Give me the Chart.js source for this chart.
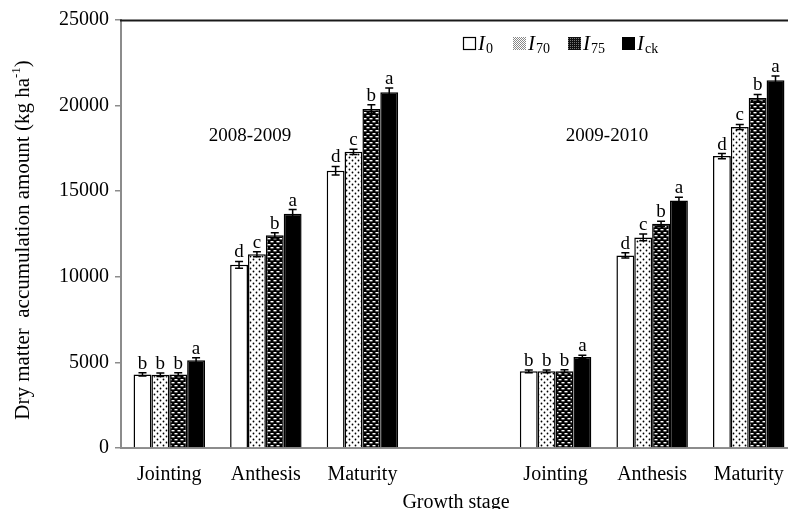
<!DOCTYPE html>
<html>
<head>
<meta charset="utf-8">
<script src="https://cdn.jsdelivr.net/npm/chart.js@4/dist/chart.umd.min.js"></script>
<style>
html,body{margin:0;padding:0;background:#fff;overflow:hidden;}
canvas{display:block;}
</style>
</head>
<body>
<canvas id="c" width="800" height="509"></canvas>
<script>
// ---- data ----
const categories = ['Jointing','Anthesis','Maturity','','Jointing','Anthesis','Maturity'];
const seriesNames = ['I0','I70','I75','Ick'];
const I0  = [4300, 10700, 16200, null, 4480, 11250, 17050];
const I70 = [4280, 11320, 17300, null, 4480, 12300, 18750];
const I75 = [4300, 12420, 19800, null, 4490, 13100, 20450];
const Ick = [5120, 13680, 20780, null, 5320, 14450, 21480];
const I0Err  = [100, 200, 250, null, 80, 150, 150];
const I70Err = [100, 150, 150, null, 80, 200, 150];
const I75Err = [100, 150, 250, null, 80, 150, 200];
const IckErr = [150, 250, 250, null, 100, 200, 250];
const I0Let  = ['b','d','d','','b','d','d'];
const I70Let = ['b','c','c','','b','c','c'];
const I75Let = ['b','b','b','','b','b','b'];
const IckLet = ['a','a','a','','a','a','a'];
const yTicks = [0, 5000, 10000, 15000, 20000, 25000];
const seasonLabels = ['2008-2009','2009-2010'];

const FONT = '"Liberation Serif", "Times New Roman", serif';

// ---- patterns ----
function makeTile(w, h, draw) {
  const c = document.createElement('canvas');
  c.width = w; c.height = h;
  const g = c.getContext('2d');
  draw(g);
  return document.getElementById('c').getContext('2d').createPattern(c, 'repeat');
}
const dotPat = makeTile(6, 6, g => {
  g.fillStyle = '#fff'; g.fillRect(0,0,6,6);
  g.fillStyle = '#000';
  g.beginPath(); g.arc(1.5,1.5,0.9,0,Math.PI*2); g.fill();
  g.beginPath(); g.arc(4.5,4.5,0.9,0,Math.PI*2); g.fill();
});
const brickPat = makeTile(6, 6, g => {
  g.fillStyle = '#000'; g.fillRect(0,0,6,6);
  g.fillStyle = '#fff';
  g.fillRect(0.5,1,3,1.4);
  g.fillRect(3.5,4,3,1.4);
  g.fillRect(-2.5,4,3,1.4);
});
const lightStip = makeTile(2, 2, g => {
  g.fillStyle = '#fff'; g.fillRect(0,0,2,2);
  g.fillStyle = '#888'; g.fillRect(0,0,1,1); g.fillRect(1,1,1,1);
});
const darkStip = makeTile(2, 2, g => {
  g.fillStyle = '#111'; g.fillRect(0,0,2,2);
  g.fillStyle = '#777'; g.fillRect(0,0,1,1);
});

const errs = [I0Err, I70Err, I75Err, IckErr];
const lets = [I0Let, I70Let, I75Let, IckLet];

const overlay = {
  id: 'overlay',
  afterDatasetsDraw(chart) {
    const ctx = chart.ctx;
    const ya = chart.scales.y;
    const ca = chart.chartArea;
    ctx.save();
    // error bars + letters
    chart.data.datasets.forEach((ds, di) => {
      const meta = chart.getDatasetMeta(di);
      meta.data.forEach((bar, i) => {
        const v = ds.data[i];
        if (v == null) return;
        const e = errs[di][i];
        const x = bar.x;
        const yt = ya.getPixelForValue(v + e);
        const yb = ya.getPixelForValue(v - e);
        ctx.strokeStyle = '#000';
        ctx.lineWidth = 1.5;
        ctx.beginPath();
        ctx.moveTo(x, yt); ctx.lineTo(x, yb);
        ctx.moveTo(x-4, yt); ctx.lineTo(x+4, yt);
        ctx.moveTo(x-4, yb); ctx.lineTo(x+4, yb);
        ctx.stroke();
        ctx.fillStyle = '#000';
        ctx.font = '19px ' + FONT;
        ctx.textAlign = 'center';
        ctx.textBaseline = 'alphabetic';
        ctx.fillText(lets[di][i], x, yt - 4);
      });
    });
    // top line
    ctx.strokeStyle = '#1a1a1a';
    ctx.lineWidth = 2;
    ctx.beginPath();
    ctx.moveTo(ca.left - 1, ca.top + 0.5);
    ctx.lineTo(chart.width, ca.top + 0.5);
    ctx.stroke();
    // season labels
    ctx.fillStyle = '#000';
    ctx.font = '19px ' + FONT;
    ctx.textAlign = 'center';
    ctx.textBaseline = 'middle';
    ctx.fillText(seasonLabels[0], 250, 136);
    ctx.fillText(seasonLabels[1], 607, 136);
    // x title
    ctx.font = '20px ' + FONT;
    ctx.textBaseline = 'alphabetic';
    ctx.fillText('Growth stage', (ca.left + ca.right) / 2 - 3, 508);
    // y title with superscript
    ctx.save();
    ctx.translate(23, (ca.top + ca.bottom) / 2 + 6);
    ctx.rotate(-Math.PI / 2);
    ctx.textBaseline = 'middle';
    ctx.textAlign = 'left';
    const f1 = '21px ' + FONT, f2 = '13px ' + FONT;
    const p1 = 'Dry matter  accumulation amount (kg ha', p2 = '-1', p3 = ')';
    ctx.font = f1; const w1 = ctx.measureText(p1).width, w3 = ctx.measureText(p3).width;
    ctx.font = f2; const w2 = ctx.measureText(p2).width;
    let x0 = -(w1 + w2 + w3) / 2;
    ctx.font = f1; ctx.fillText(p1, x0, 0);
    ctx.font = f2; ctx.fillText(p2, x0 + w1, -6);
    ctx.font = f1; ctx.fillText(p3, x0 + w1 + w2, 0);
    ctx.restore();
    // legend
    const ly = 43;
    const items = [
      {x: 463, fill: '#fff', border: true, sub: '0'},
      {x: 513, fill: lightStip, border: false, sub: '70'},
      {x: 568, fill: darkStip, border: false, sub: '75'},
      {x: 622, fill: '#000', border: false, sub: 'ck'}
    ];
    items.forEach(it => {
      ctx.fillStyle = it.fill;
      ctx.fillRect(it.x, ly - 6, 13, 13);
      if (it.border) {
        ctx.strokeStyle = '#000'; ctx.lineWidth = 1.2;
        ctx.strokeRect(it.x + 0.5, ly - 5.5, 12, 12);
      }
      ctx.fillStyle = '#000';
      ctx.textAlign = 'left';
      ctx.textBaseline = 'alphabetic';
      ctx.font = 'italic 21px ' + FONT;
      const ix = it.x + 15;
      ctx.fillText('I', ix, ly + 7);
      const iw = ctx.measureText('I').width;
      ctx.font = '14px ' + FONT;
      ctx.fillText(it.sub, ix + iw + 1, ly + 10);
    });
    ctx.restore();
  }
};

const data = {
  labels: categories,
  datasets: [
    {label: seriesNames[0], data: I0,  backgroundColor: '#fff',   borderColor: '#000', borderWidth: 1.5},
    {label: seriesNames[1], data: I70, backgroundColor: dotPat,   borderColor: '#000', borderWidth: 1.5},
    {label: seriesNames[2], data: I75, backgroundColor: brickPat, borderColor: '#000', borderWidth: 1.5},
    {label: seriesNames[3], data: Ick, backgroundColor: '#000',   borderColor: '#000', borderWidth: 1.5}
  ]
};

new Chart(document.getElementById('c'), {
  type: 'bar',
  data,
  plugins: [overlay],
  options: {
    responsive: false,
    animation: false,
    devicePixelRatio: 1,
    layout: {padding: {top: 20, right: 3, left: 0, bottom: 0}},
    plugins: {legend: {display: false}, tooltip: {enabled: false}},
    datasets: {bar: {categoryPercentage: 0.74, barPercentage: 1.0}},
    scales: {
      x: {
        grid: {display: false},
        border: {color: '#8c8c8c', width: 2},
        ticks: {color: '#000', font: {family: FONT, size: 20}, padding: 7, maxRotation: 0, autoSkip: false},
        afterFit(s) { s.height = 61; }
      },
      y: {
        min: 0, max: 25000,
        afterBuildTicks(s) { s.ticks = yTicks.map(v => ({value: v})); },
        grid: {display: true, drawOnChartArea: false, drawTicks: true, tickLength: 6, color: '#8c8c8c', lineWidth: 1.5},
        border: {color: '#8c8c8c', width: 2},
        ticks: {color: '#000', font: {family: FONT, size: 20}, padding: 6, callback: v => String(v)},
        afterFit(s) { s.width = 121; }
      }
    }
  }
});
</script>
</body>
</html>
